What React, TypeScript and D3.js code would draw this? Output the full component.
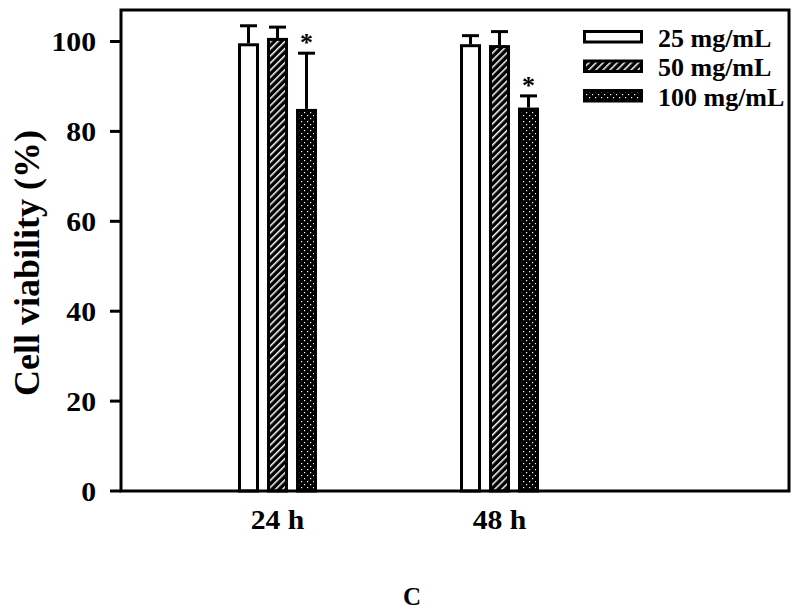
import React from "react";
import * as d3 from "d3";

const groups = ["24 h", "48 h"];
const series = ["25 mg/mL", "50 mg/mL", "100 mg/mL"];
const means = [
  [99.6, 100.8, 85.0],
  [99.4, 99.2, 85.3],
];
const errors = [
  [3.9, 2.4, 12.4],
  [1.9, 3.0, 2.6],
];
const significant = [
  [false, false, true],
  [false, false, true],
];
const yTicks = [0, 20, 40, 60, 80, 100];
const panelLabel = "C";
const yLabel = "Cell viability (%)";

const W = 800;
const H = 613;
const left = 121;
const right = 789;
const top = 10;
const bottom = 491;
const FONT = "Liberation Serif, Times New Roman, serif";

export default function App() {
  const y = d3.scaleLinear().domain([0, 100]).range([bottom, 41.5]);
  const x = d3.scaleLinear().domain([0.295, 3.304]).range([left, right]);
  const inner = d3
    .scaleBand<string>()
    .domain(series)
    .range([-39.5, 39.5])
    .paddingInner(0.276)
    .paddingOuter(0);
  const bw = inner.bandwidth();
  const fills = ["#fff", "url(#hatch)", "url(#dots)"];
  const sw = 3;

  const T = (
    props: { x: number; y: number; size: number; sx?: number; anchor?: string; children: React.ReactNode }
  ) => (
    <text
      transform={`translate(${props.x},${props.y}) scale(${props.sx ?? 1.08},1)`}
      fontFamily={FONT}
      fontWeight="bold"
      fontSize={props.size}
      textAnchor={props.anchor || "start"}
      fill="#000"
    >
      {props.children}
    </text>
  );

  return (
    <svg width={W} height={H} style={{ position: "absolute", left: 0, top: 0, background: "#fff" }}>
      <defs>
        <pattern id="hatch" patternUnits="userSpaceOnUse" width="5" height="5" patternTransform="rotate(45)">
          <rect width="5" height="5" fill="#000" />
          <rect x="0" y="0" width="1.5" height="5" fill="#fff" />
        </pattern>
        <pattern id="dots" patternUnits="userSpaceOnUse" width="6" height="6">
          <rect width="6" height="6" fill="#000" />
          <rect x="1" y="1" width="1.2" height="1.2" fill="#fff" />
          <rect x="4" y="4" width="1.2" height="1.2" fill="#fff" />
        </pattern>
      </defs>

      {groups.map((g, gi) =>
        series.map((s, si) => {
          const cx = x(gi + 1) + (inner(s) as number);
          const v = means[gi][si];
          const e = errors[gi][si];
          const mid = cx + bw / 2;
          return (
            <g key={g + s}>
              <line x1={mid} x2={mid} y1={y(v)} y2={y(v + e)} stroke="#000" strokeWidth={sw} />
              <line x1={mid - 8.5} x2={mid + 8.5} y1={y(v + e)} y2={y(v + e)} stroke="#000" strokeWidth={sw} />
              <rect
                x={cx + sw / 2}
                y={y(v) + sw / 2}
                width={bw - sw}
                height={bottom - y(v) - sw / 2}
                fill={fills[si]}
                stroke="#000"
                strokeWidth={sw}
              />
              {significant[gi][si] && (
                <T x={mid} y={y(v + e) - 2} size={26} sx={1} anchor="middle">*</T>
              )}
            </g>
          );
        })
      )}

      <rect x={left} y={top} width={right - left} height={bottom - top} fill="none" stroke="#000" strokeWidth={3} />

      {yTicks.map((t) => (
        <g key={t}>
          <line x1={left - 11} x2={left} y1={y(t)} y2={y(t)} stroke="#000" strokeWidth={3} />
          <T x={96} y={y(t) + 9.5} size={27} sx={1.1} anchor="end">{t}</T>
        </g>
      ))}

      {groups.map((g, gi) => (
        <T key={g} x={x(gi + 1)} y={529} size={27} sx={1.1} anchor="middle">{g}</T>
      ))}

      <text
        transform={`translate(39,${263}) rotate(-90)`}
        fontFamily={FONT}
        fontWeight="bold"
        fontSize={36}
        textAnchor="middle"
      >
        {yLabel}
      </text>

      {series.map((s, si) => (
        <g key={s}>
          <rect x={584.5} y={31.5 + si * 29.5} width={57} height={10.5} fill={fills[si]} stroke="#000" strokeWidth={3} />
          <T x={658} y={46.5 + si * 29.5} size={25} sx={1.04}>{s}</T>
        </g>
      ))}

      <T x={412} y={605} size={25} sx={1} anchor="middle">{panelLabel}</T>
    </svg>
  );
}
